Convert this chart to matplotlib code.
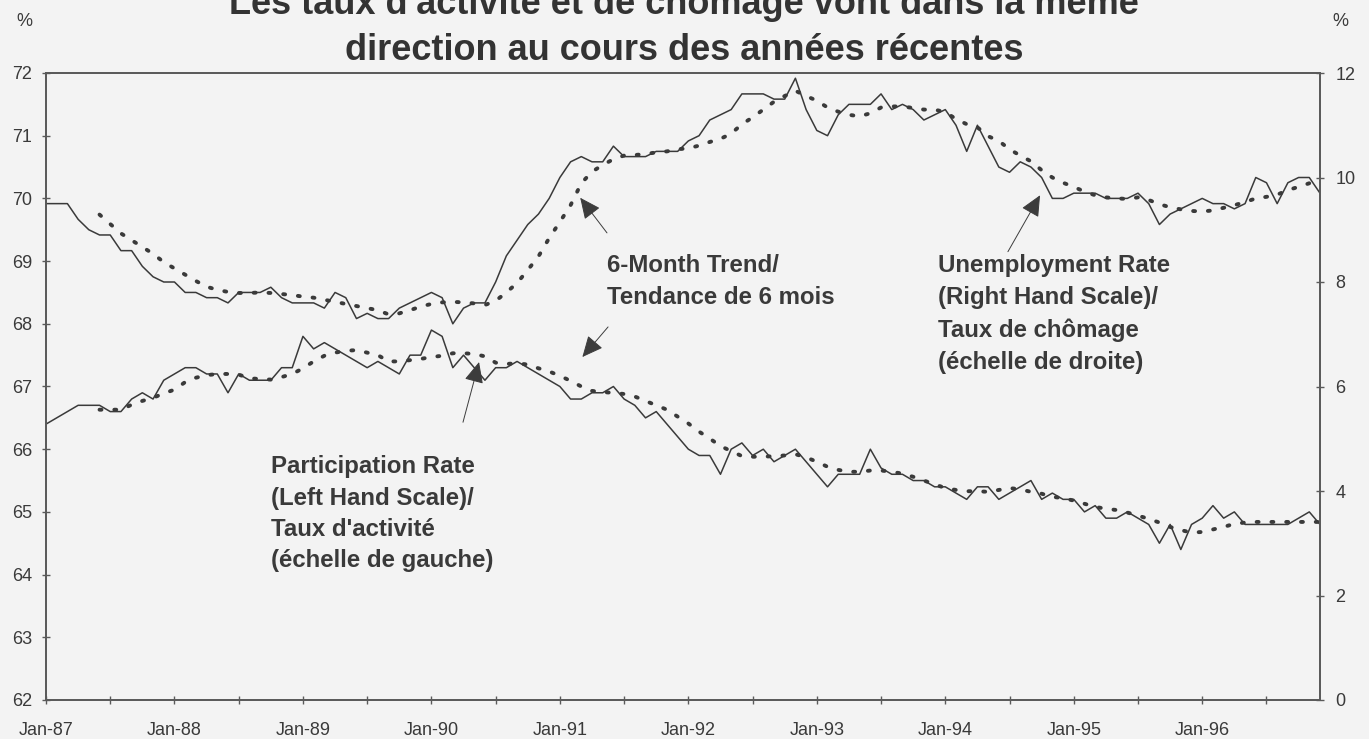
import matplotlib
matplotlib.use('Agg')

import numpy as np
import pandas as pd
import matplotlib.pyplot as plt

plt.rcParams['font.family'] = ['Liberation Sans', 'DejaVu Sans']

# monthly data, Jan-87 to Dec-96
months = pd.date_range('1987-01-01', '1996-12-01', freq='MS')

# participation rate, % (left scale)
participation = [
    66.4, 66.5, 66.6, 66.7, 66.7, 66.7, 66.6, 66.6, 66.8, 66.9, 66.8, 67.1,
    67.2, 67.3, 67.3, 67.2, 67.2, 66.9, 67.2, 67.1, 67.1, 67.1, 67.3, 67.3,
    67.8, 67.6, 67.7, 67.6, 67.5, 67.4, 67.3, 67.4, 67.3, 67.2, 67.5, 67.5,
    67.9, 67.8, 67.3, 67.5, 67.3, 67.1, 67.3, 67.3, 67.4, 67.3, 67.2, 67.1,
    67.0, 66.8, 66.8, 66.9, 66.9, 67.0, 66.8, 66.7, 66.5, 66.6, 66.4, 66.2,
    66.0, 65.9, 65.9, 65.6, 66.0, 66.1, 65.9, 66.0, 65.8, 65.9, 66.0, 65.8,
    65.6, 65.4, 65.6, 65.6, 65.6, 66.0, 65.7, 65.6, 65.6, 65.5, 65.5, 65.4,
    65.4, 65.3, 65.2, 65.4, 65.4, 65.2, 65.3, 65.4, 65.5, 65.2, 65.3, 65.2,
    65.2, 65.0, 65.1, 64.9, 64.9, 65.0, 64.9, 64.8, 64.5, 64.8, 64.4, 64.8,
    64.9, 65.1, 64.9, 65.0, 64.8, 64.8, 64.8, 64.8, 64.8, 64.9, 65.0, 64.8,
]

# unemployment rate, % (right scale)
unemployment = [
    9.5, 9.5, 9.5, 9.2, 9.0, 8.9, 8.9, 8.6, 8.6, 8.3, 8.1, 8.0,
    8.0, 7.8, 7.8, 7.7, 7.7, 7.6, 7.8, 7.8, 7.8, 7.9, 7.7, 7.6,
    7.6, 7.6, 7.5, 7.8, 7.7, 7.3, 7.4, 7.3, 7.3, 7.5, 7.6, 7.7,
    7.8, 7.7, 7.2, 7.5, 7.6, 7.6, 8.0, 8.5, 8.8, 9.1, 9.3, 9.6,
    10.0, 10.3, 10.4, 10.3, 10.3, 10.6, 10.4, 10.4, 10.4, 10.5, 10.5, 10.5,
    10.7, 10.8, 11.1, 11.2, 11.3, 11.6, 11.6, 11.6, 11.5, 11.5, 11.9, 11.3,
    10.9, 10.8, 11.2, 11.4, 11.4, 11.4, 11.6, 11.3, 11.4, 11.3, 11.1, 11.2,
    11.3, 11.0, 10.5, 11.0, 10.6, 10.2, 10.1, 10.3, 10.2, 10.0, 9.6, 9.6,
    9.7, 9.7, 9.7, 9.6, 9.6, 9.6, 9.7, 9.5, 9.1, 9.3, 9.4, 9.5,
    9.6, 9.5, 9.5, 9.4, 9.5, 10.0, 9.9, 9.5, 9.9, 10.0, 10.0, 9.7,
]

# 6-month trend, starts in Jun-87
trend_start = 5
participation_trend = [
    66.63, 66.63, 66.63, 66.71, 66.77, 66.82, 66.89,
    66.95, 67.07, 67.14, 67.18, 67.20, 67.20, 67.19, 67.13, 67.12, 67.11, 67.15, 67.20,
    67.29, 67.40, 67.49, 67.54, 67.57, 67.58, 67.54, 67.50, 67.40, 67.40, 67.42, 67.44,
    67.47, 67.49, 67.53, 67.53, 67.52, 67.48, 67.38, 67.36, 67.37, 67.35, 67.29, 67.24,
    67.17, 67.09, 67.00, 66.93, 66.91, 66.90, 66.88, 66.84, 66.77, 66.70, 66.63, 66.52,
    66.41, 66.28, 66.17, 66.05, 65.97, 65.89, 65.88, 65.88, 65.89, 65.90, 65.92, 65.87,
    65.80, 65.72, 65.67, 65.64, 65.64, 65.66, 65.66, 65.64, 65.61, 65.56, 65.50, 65.44,
    65.38, 65.35, 65.33, 65.33, 65.32, 65.35, 65.38, 65.36, 65.32, 65.29, 65.24, 65.22,
    65.18, 65.13, 65.08, 65.05, 65.03, 64.99, 64.94, 64.89, 64.83, 64.76, 64.71, 64.67,
    64.68, 64.72, 64.76, 64.81, 64.83, 64.84, 64.84, 64.84, 64.84, 64.84, 64.84, 64.84,
]
unemployment_trend = [
    9.29, 9.11, 8.93, 8.80, 8.67, 8.54, 8.38,
    8.26, 8.14, 8.02, 7.91, 7.85, 7.81, 7.79, 7.79, 7.80, 7.79, 7.77, 7.75,
    7.72, 7.70, 7.66, 7.62, 7.58, 7.54, 7.50, 7.46, 7.38, 7.40, 7.46, 7.53,
    7.58, 7.61, 7.62, 7.61, 7.59, 7.56, 7.64, 7.80, 7.98, 8.23, 8.49, 8.84,
    9.15, 9.47, 9.89, 10.11, 10.24, 10.35, 10.42, 10.43, 10.45, 10.48, 10.50, 10.54,
    10.56, 10.61, 10.68, 10.74, 10.84, 11.02, 11.15, 11.30, 11.45, 11.56, 11.66, 11.56,
    11.47, 11.34, 11.26, 11.20, 11.17, 11.23, 11.34, 11.36, 11.36, 11.33, 11.30, 11.30,
    11.25, 11.12, 11.02, 10.96, 10.79, 10.70, 10.54, 10.42, 10.31, 10.14, 10.00, 9.90,
    9.82, 9.73, 9.66, 9.62, 9.60, 9.59, 9.62, 9.57, 9.49, 9.43, 9.39, 9.36,
    9.35, 9.37, 9.42, 9.47, 9.53, 9.60, 9.63, 9.67, 9.76, 9.82, 9.89, 9.90,
]

left_ticks = list(range(62, 73))
right_ticks = list(range(0, 13, 2))

# colours
bg = '#f3f3f3'
ink = '#3a3a3a'
axis_col = '#5a5a5a'

W, H = 1369, 739
fig = plt.figure(figsize=(W / 100, H / 100), dpi=100, facecolor=bg)
ax = fig.add_axes([46 / W, 1 - 700 / H, (1320 - 46) / W, (700 - 73) / H])
ax.set_facecolor(bg)
ax2 = ax.twinx()

def px(x, y):
    return x / W, 1 - y / H

x = np.arange(len(months))
xt = np.arange(trend_start, len(months))

ax.plot(x, participation, color=ink, lw=1.1)
ax.plot(xt, participation_trend, color=ink, lw=2.8,
        linestyle=(0, (0.5, 3.3)), dash_capstyle='round')
ax2.plot(x, unemployment, color=ink, lw=1.1)
ax2.plot(xt, unemployment_trend, color=ink, lw=2.8,
         linestyle=(0, (0.5, 3.3)), dash_capstyle='round')

ax.set_xlim(0, len(months) - 1)
ax.set_ylim(62, 72)
ax2.set_ylim(0, 12)

xticks = list(range(0, len(months), 6))
ax.set_xticks(xticks)
ax.set_xticklabels([months[i].strftime('%b-%y') if i % 12 == 0 else '' for i in xticks])
ax.set_yticks(left_ticks)
ax2.set_yticks(right_ticks)

for a in (ax, ax2):
    for s in a.spines.values():
        s.set_color(axis_col)
        s.set_linewidth(1.3)

ax.tick_params(axis='x', direction='inout', length=6, width=1, color=axis_col,
               pad=13, labelsize=13, labelcolor=ink)
ax.tick_params(axis='y', direction='inout', length=6, width=1, color=axis_col,
               pad=7, labelsize=13, labelcolor=ink)
ax2.tick_params(axis='y', direction='inout', length=6, width=1, color=axis_col,
                pad=8, labelsize=13, labelcolor=ink)

# title (first line runs off the top edge, as in the source)
fig.text(*px(684, 14), "Les taux d'activité et de chômage vont dans la même",
         ha='center', va='baseline', fontsize=26, fontweight='bold', color='#333333')
fig.text(*px(684, 60), 'direction au cours des années récentes',
         ha='center', va='baseline', fontsize=26, fontweight='bold', color='#333333')

fig.text(*px(24, 22), '%', ha='center', va='center', fontsize=13, color=ink)
fig.text(*px(1340, 22), '%', ha='center', va='center', fontsize=13, color=ink)

# annotation blocks
blocks = [
    (607, [265, 297], ['6-Month Trend/', 'Tendance de 6 mois']),
    (271, [466, 498, 530, 561], ['Participation Rate', '(Left Hand Scale)/',
                                 "Taux d'activité", '(échelle de gauche)']),
    (938, [266, 298, 330, 362], ['Unemployment Rate', '(Right Hand Scale)/',
                                 'Taux de chômage', '(échelle de droite)']),
]
for bx, ys, lines in blocks:
    for yy, line in zip(ys, lines):
        fig.text(*px(bx, yy), line, ha='left', va='center', fontsize=17.3,
                 fontweight='bold', color=ink)

# arrows (tail -> tip, in left-scale data units)
arrows = [
    ((52.4, 69.45), (49.9, 70.01)),
    ((52.5, 67.95), (50.1, 67.47)),
    ((38.95, 66.43), (40.45, 67.39)),
    ((89.85, 69.15), (92.85, 70.05)),
]
for tail, tip in arrows:
    ax.annotate('', xy=tip, xytext=tail,
                arrowprops=dict(arrowstyle='-|>,head_length=1.3,head_width=0.6',
                                color='#3c3c3c', lw=0.7, shrinkA=0, shrinkB=0))

fig.savefig('out.png', dpi=100, facecolor=bg)
